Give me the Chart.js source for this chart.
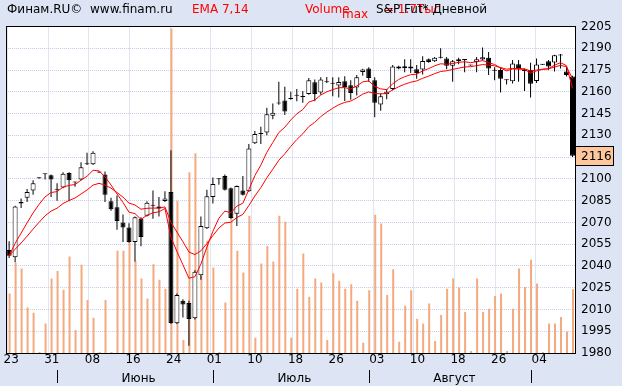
<!DOCTYPE html>
<html><head><meta charset="utf-8">
<script src="https://cdn.jsdelivr.net/npm/chart.js@4"></script>
<style>
html,body{margin:0;padding:0;background:#dde5f5;width:622px;height:386px;overflow:hidden;}
#wrap{position:relative;width:622px;height:386px;}
canvas{position:absolute;left:0;top:0;}
.h{position:absolute;font:12px "DejaVu Sans",sans-serif;line-height:14px;white-space:nowrap;}
</style></head><body>
<div id="wrap">
<canvas id="c" width="622" height="386"></canvas>
<span class="h" style="left:7px;top:2px;color:#000">Финам.RU©</span>
<span class="h" style="left:90px;top:2px;color:#000">www.finam.ru</span>
<span class="h" style="left:192px;top:2px;color:#f00">EMA 7,14</span>
<span class="h" style="left:305px;top:2px;color:#f00">Volume</span>
<span class="h" style="left:342px;top:7px;color:#f00">max</span>
<span class="h" style="left:384px;top:2px;color:#f00">= 1.7Тыс</span>
<span class="h" style="left:376px;top:2px;color:#000">S&amp;P Fut* Дневной</span>
</div>
<script>
const dates = ["23.05","24.05","25.05","26.05","27.05","29.05","30.05","31.05",
"01.06","02.06","03.06","05.06","06.06","07.06","08.06","09.06","10.06","12.06","13.06","14.06","15.06","16.06","17.06","19.06","20.06","21.06","22.06","23.06","24.06","26.06","27.06","28.06","29.06","30.06",
"01.07","03.07","04.07","05.07","06.07","07.07","08.07","10.07","11.07","12.07","13.07","14.07","15.07","17.07","18.07","19.07","20.07","21.07","22.07","24.07","25.07","26.07","27.07","28.07","29.07","31.07",
"01.08","02.08","03.08","04.08","05.08","07.08","08.08","09.08","10.08","11.08","12.08","14.08","15.08","16.08","17.08","18.08","19.08","21.08","22.08","23.08","24.08","25.08","26.08","28.08","29.08","30.08","31.08",
"01.09","02.09","04.09","05.09","06.09","07.09","08.09","09.09"];

const openP = [2051,2046,2083,2087,2092,2100.4,2103.2,2102.5,2092.5,2094,
2104,2097.5,2099.5,2110,2110,2104.4,2103,2084.5,2080.5,2070,
2066.5,2056.5,2072.5,2074.5,2082,2081,2084.7,2091,2000.5,2016,
2014.5,2004,2033.5,2066,2087.5,2099.8,2102,2093.5,2076,2092,
2091.5,2124.5,2131,2132,2143.5,2152,2154,2155,2157.3,2156.5,
2158.5,2166.5,2159.5,2166.8,2165.5,2164.3,2167.3,2164.5,2163,2173.7,
2176,2168,2151.2,2158.3,2162,2176,2177.6,2177.5,2175.5,2175.3,
2182.4,2181,2183.4,2183,2178,2181.2,2182.2,2178.2,2180.5,2182.2,
2183.4,2174.5,2175,2168,2167.3,2179,2174.5,2175,2167.5,2178.6,
2181,2180.2,2185.1,2174,2170.5];

const highP = [2057,2081.5,2086.5,2093,2099,2101,2103.6,2103,2097,2104.5,
2104.5,2098,2111.5,2118,2119,2105,2105,2087,2088.5,2075.5,
2069.5,2074,2073.5,2084.5,2092,2087.5,2091.5,2119.7,2021,2017,
2016,2037,2074,2092.5,2101,2100.5,2103,2094,2095.5,2102,
2124,2133,2136,2149,2152,2167,2163.5,2160,2162,2160.5,
2169.5,2168.5,2170,2170.2,2170,2170,2170.7,2168,2171.5,2175.8,
2177,2170,2159,2162,2178.5,2178,2182.5,2182.5,2178.5,2184.5,
2183,2184,2190,2184,2182,2183.5,2182.5,2178.6,2184,2190.5,
2187.5,2177,2177,2168.5,2182,2182,2176,2180,2183,2179.2,
2182,2185.5,2186,2177,2171];

const lowP = [2045.5,2042.5,2080,2084,2089,2100,2099.5,2087.5,2085,2093.5,
2084.5,2094.5,2099,2109.5,2109.5,2104,2084,2078,2065,2056.5,
2056,2043,2053.5,2074,2072.5,2074,2084,2000,2000,2004.5,
1985,2003,2030.5,2065.5,2083,2096,2092,2072.5,2067.5,2088.5,
2091,2124,2124,2130,2141,2151,2144,2154.5,2153.5,2152.5,
2158,2153.5,2158,2166,2157,2156,2153.7,2154.5,2157.5,2171,
2167,2142.5,2147,2154.8,2161,2175.5,2173.5,2173,2169,2172,
2180,2180.5,2183,2175.5,2167,2179,2173.5,2178,2173.5,2181.5,
2171.5,2168,2159.5,2165,2165.7,2167,2160.5,2156,2166,2178.4,
2175,2174,2176,2170.5,2115];

const closeP = [2047,2081,2084,2091,2097,2100.6,2103.5,2099.5,2093,2103.5,
2099,2097.8,2108,2110.2,2118,2104.6,2089,2079,2071,2066.5,
2056.5,2073.5,2060,2083.5,2081.5,2079.5,2086.4,2000.6,2020,2013.5,
2003.5,2036,2067.5,2088,2096.5,2100,2092.5,2073,2095,2089,
2121,2131,2131.5,2144.5,2145.5,2152.5,2146.5,2155.5,2157.6,2156.8,
2168,2158.5,2168.5,2166.5,2166,2166.8,2163.3,2159.2,2170,2175.3,
2169.5,2152.5,2157,2160,2177.5,2177.5,2176.2,2176,2173,2181.3,
2180.6,2183.5,2183.6,2178,2181,2182.5,2182,2178.4,2182.5,2183.8,
2176,2174.7,2169,2168.2,2179.5,2175.5,2174.3,2165.5,2178.8,2178.9,
2177.5,2185.2,2185.3,2171.5,2116];

const volume = [311,474,442,238,211,5,154,390,430,331,
505,121,462,278,185,5,278,5,535,535,
579,483,390,285,465,383,337,1700,798,68,
946,1046,404,588,448,5,264,719,535,421,
719,80,469,561,479,719,687,80,337,521,
294,390,369,68,418,378,337,360,273,54,
329,724,678,304,439,59,247,329,180,154,
259,63,199,337,390,343,215,10,390,215,
232,299,311,10,232,442,346,488,364,5,
154,154,189,112,334];

const emaFast = [2047.0,2055.5,2062.6,2069.7,2076.5,2082.5,2087.6,2090.6,2091.2,2094.3,
2095.5,2096.1,2099.1,2101.8,2105.9,2105.5,2101.4,2095.8,2089.6,2083.8,
2077.0,2076.1,2072.1,2074.9,2076.6,2077.3,2079.6,2059.8,2049.9,2040.8,
2031.5,2032.6,2041.3,2053.0,2063.9,2072.9,2077.8,2076.6,2081.2,2083.2,
2092.6,2102.2,2109.5,2118.3,2125.1,2131.9,2135.6,2140.6,2144.8,2147.8,
2152.9,2154.3,2157.8,2160.0,2161.5,2162.8,2162.9,2162.0,2164.0,2166.8,
2167.5,2163.7,2162.0,2161.5,2165.5,2168.5,2170.4,2171.8,2172.1,2174.4,
2176.0,2177.9,2179.3,2179.0,2179.5,2180.3,2180.7,2180.1,2180.7,2181.5,
2180.1,2178.8,2176.4,2174.4,2175.7,2175.7,2175.4,2172.9,2174.4,2175.5,
2176.0,2178.3,2180.1,2178.0,2162.5];

const emaSlow = [2047.0,2051.5,2055.8,2060.5,2065.4,2070.1,2074.5,2077.8,2079.8,2083.0,
2085.1,2086.8,2089.6,2092.3,2095.7,2096.9,2095.8,2093.6,2090.6,2087.4,
2083.3,2082.0,2079.1,2079.7,2079.9,2079.8,2080.7,2070.0,2063.3,2056.7,
2049.6,2047.8,2050.4,2055.4,2060.9,2066.1,2069.6,2070.1,2073.4,2075.5,
2081.6,2088.2,2094.0,2100.7,2106.7,2112.8,2117.3,2122.4,2127.1,2131.1,
2136.0,2139.0,2142.9,2146.0,2148.7,2151.1,2152.7,2153.6,2155.8,2158.4,
2159.9,2158.9,2158.6,2158.8,2161.3,2163.5,2165.2,2166.6,2167.5,2169.3,
2170.8,2172.5,2174.0,2174.5,2175.4,2176.3,2177.1,2177.3,2178.0,2178.8,
2178.4,2177.9,2176.7,2175.6,2176.1,2176.0,2175.8,2174.4,2175.0,2175.5,
2175.8,2177.1,2178.2,2177.3,2169.1];

const xTickLabels = ["23","31","08","16","24","01","10","18","26","03","10","18","26","04"];
const monthNames = ["Июнь","Июль","Август"];
const monthStartIdx = [8,34,60,87];

// ---- layout / style config (not data) ----
const FONT = 'DejaVu Sans';
const GRID = '#c3cbe6';
const xTickFirst = -0.245, xTickStep = 6.778;
const N = dates.length;

Chart.defaults.font.family = FONT;
Chart.defaults.font.size = 12;
Chart.defaults.color = '#000';

const bodies = openP.map((o,i)=>[Math.min(o,closeP[i]), Math.max(o,closeP[i])]);
const bodyColors = openP.map((o,i)=> closeP[i] >= o ? '#ffffff' : '#000000');
const wicks = lowP.map((l,i)=>[l, highP[i]]);
const volPts = volume.map((v,i)=>({x:i, y:v}));

const framePlugin = {
  id: 'frame',
  beforeDraw(chart){
    const a = chart.chartArea, ctx = chart.ctx;
    ctx.save(); ctx.fillStyle = '#fff';
    ctx.fillRect(a.left, a.top, a.right-a.left, a.bottom-a.top);
    ctx.restore();
  },
  afterDraw(chart){
    const ctx = chart.ctx;
    const xs = chart.scales.x, ys = chart.scales.y;
    ctx.save();
    ctx.strokeStyle = '#000'; ctx.lineWidth = 1;
    ctx.strokeRect(6.5, 26.5, 569, 327);
    // last price box
    const last = closeP[closeP.length-1];
    const py = Math.round(ys.getPixelForValue(last));
    ctx.fillStyle = '#fdc69c';
    ctx.fillRect(575, py-10, 39, 20);
    ctx.strokeRect(575.5, py-9.5, 38, 19);
    ctx.fillStyle = '#000';
    ctx.font = '12px ' + FONT;
    ctx.textBaseline = 'middle'; ctx.textAlign = 'left';
    ctx.fillText(String(Math.round(last)), 581, py+0.5);
    // month row
    ctx.beginPath();
    monthStartIdx.forEach(idx => {
      const x = Math.round(xs.getPixelForValue(idx)) + 0.5;
      ctx.moveTo(x, 370); ctx.lineTo(x, 383);
    });
    ctx.stroke();
    monthNames.forEach((m, k) => {
      const x = xs.getPixelForValue(monthStartIdx[k]) + 64.5;
      ctx.fillText(m, x, 379);
    });
    ctx.restore();
  }
};

new Chart(document.getElementById('c'), {
  type: 'bar',
  data: {
    labels: dates,
    datasets: [
      {type:'line', label:'EMA 7', data: emaFast, borderColor:'#ff0000', borderWidth:1, pointRadius:0, tension:0, order:0},
      {type:'line', label:'EMA 14', data: emaSlow, borderColor:'#ff0000', borderWidth:1, pointRadius:0, tension:0, order:0},
      {type:'bar', label:'body', data: bodies, backgroundColor: bodyColors, borderColor:'#000', borderWidth:1,
        borderSkipped:false, barThickness:5, minBarLength:1, grouped:false, inflateAmount:0, order:1},
      {type:'bar', label:'wick', data: wicks, backgroundColor:'#000', borderWidth:0,
        barThickness:1, grouped:false, inflateAmount:0, order:2},
      {type:'bar', label:'Volume', data: volPts, xAxisID:'xv', yAxisID:'yv', backgroundColor:'#f4a97f', borderWidth:0,
        barThickness:2, grouped:false, inflateAmount:0, order:3}
    ]
  },
  options: {
    responsive:false, animation:false, devicePixelRatio:1,
    layout:{padding:{left:5.5, top:26.5, right:0, bottom:0}},
    plugins:{legend:{display:false}, tooltip:{enabled:false}},
    scales:{
      x:{type:'category', display:false, offset:true},
      xv:{type:'linear', display:false, offset:false, bounds:'ticks', min:-0.5-1/12, max:N-0.5-1/12, grid:{offset:false}},
      xg:{type:'linear', position:'bottom', offset:false, min:-0.5, max:N-0.5,
        afterBuildTicks(scale){ scale.ticks = xTickLabels.map((t,k)=>({value: xTickFirst + k*xTickStep})); },
        afterFit(scale){ scale.height = 33; },
        ticks:{autoSkip:false, maxRotation:0, padding:0, labelOffset:3.5,
          callback:(v,i)=>xTickLabels[i], font:{size:12}, color:'#000'},
        grid:{color:GRID, drawTicks:false, offset:false},
        border:{display:false, dash:[1,1]}
      },
      y:{position:'right', min:1980, max:2205,
        afterFit(scale){ scale.width = 46.5; },
        ticks:{stepSize:15, crossAlign:'near', padding:5.5, font:{size:12}, color:'#000',
          callback:(v)=>String(v)},
        grid:{color:GRID, drawTicks:false},
        border:{display:false, dash:[1,1]}
      },
      yv:{display:false, min:0, max:1710}
    }
  },
  plugins:[framePlugin]
});
</script>
</body></html>
